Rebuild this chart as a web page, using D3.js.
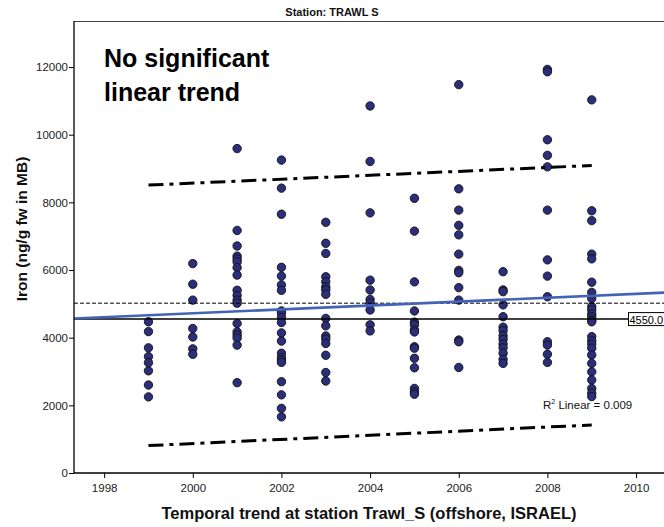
<!DOCTYPE html>
<html><head><meta charset="utf-8">
<script src="https://cdn.jsdelivr.net/npm/d3@7"></script>
<style>
html,body{margin:0;padding:0;background:#fff;overflow:hidden}
svg{display:block}
text{font-family:"Liberation Sans",Arial,sans-serif}
</style></head>
<body><svg id="c" width="664" height="527"></svg>
<script>
// ---- data ----
const years = [1999,2000,2001,2002,2003,2004,2005,2006,2007,2008,2009];
const v1999 = [4470,4180,3700,3440,3260,3020,2600,2250];
const v2000 = [6190,5580,5110,4270,4020,3670,3510];
const v2001 = [9590,7170,6710,6410,6330,6240,6070,5850,5400,5250,5110,5020,4420,4170,4080,3990,3780,2670];
const v2002 = [9250,8420,7650,6080,5820,5560,5400,4790,4730,4600,4450,4140,3900,3540,3410,3340,3270,2700,2310,1910,1660];
const v2003 = [7410,6790,6490,5800,5650,5500,5410,5280,4570,4350,4050,3960,3830,3480,2970,2720];
const v2004 = [10850,9210,7690,5700,5410,5130,5020,4820,4380,4200];
const v2005 = [8120,7150,5650,4790,4460,4380,4230,4170,3730,3690,3390,3110,2500,2400,2330];
const v2006 = [11480,8400,7770,7320,7040,6470,5990,5920,5480,5110,3930,3880,3120];
const v2007 = [5950,5410,5360,4970,4620,4310,4210,4060,3950,3810,3700,3540,3360,3240];
const v2008 = [11930,11860,9850,9390,9050,7770,6300,5820,5210,3880,3780,3510,3270];
const v2009 = [11030,7750,7460,6470,6330,5640,5340,5160,4920,4820,4700,4620,4520,4470,4030,3910,3810,3690,3490,3240,2990,2750,2500,2360,2260];
const columnValues = [v1999,v2000,v2001,v2002,v2003,v2004,v2005,v2006,v2007,v2008,v2009];

const yTicks = [0,2000,4000,6000,8000,10000,12000];
const xTicks = [1998,2000,2002,2004,2006,2008,2010];

const meanValue = 5020;          // dashed reference line
const refValue = 4550;           // solid reference line
const refLabel = "4550.0";
const fitLine = [{year:1997.32, v:4565},{year:2010.63, v:5332}];
const upperBand = [{year:1999, v:8510},{year:2009, v:9090}];
const lowerBand = [{year:1999, v:810},{year:2009, v:1420}];
const r2Text = " Linear = 0.009";

const titleText = "Station: TRAWL S";
const xLabel = "Temporal trend at station Trawl_S (offshore, ISRAEL)";
const yLabel = "Iron (ng/g fw in MB)";
const noteLines = ["No significant","linear trend"];

// ---- layout ----
const svg = d3.select("#c");
const mLeft = 74, mTop = 21, mBottom = 473, mRight = 664;
const x = d3.scaleLinear().domain([1997.32, 2010.63]).range([mLeft, mRight]);
const y = d3.scaleLinear().domain([0, 13361]).range([mBottom, mTop]);

const points = [];
years.forEach((yr,i)=>columnValues[i].forEach(v=>points.push({year:yr, v})));

// frame top
svg.append("line").attr("x1",mLeft).attr("x2",mRight+10).attr("y1",mTop+0.5).attr("y2",mTop+0.5)
  .attr("stroke","#444").attr("stroke-width",1.2);

// points
svg.append("g").selectAll("circle").data(points).join("circle")
  .attr("cx",d=>x(d.year)).attr("cy",d=>y(d.v)).attr("r",4.2)
  .attr("fill","#2b2e7a").attr("stroke","#111").attr("stroke-width",0.9);

const line = d3.line().x(d=>x(d.year)).y(d=>y(d.v));

// dashed mean line
svg.append("path").datum([{year:1997.32,v:meanValue},{year:2010.63,v:meanValue}])
  .attr("d",line).attr("stroke","#000").attr("stroke-width",1).attr("stroke-dasharray","4,2").attr("fill","none");

// solid reference line
svg.append("path").datum([{year:1997.32,v:refValue},{year:x.invert(628),v:refValue}])
  .attr("d",line).attr("stroke","#000").attr("stroke-width",1.4).attr("fill","none");

// fit line
svg.append("path").datum(fitLine).attr("d",line)
  .attr("stroke","#4463b8").attr("stroke-width",2.6).attr("fill","none");

// bands
[upperBand, lowerBand].forEach(b=>{
  svg.append("path").datum(b).attr("d",line)
    .attr("stroke","#000").attr("stroke-width",3).attr("fill","none")
    .attr("stroke-dasharray","15,6,4,6");
});

// ref label box
const ry = y(refValue);
svg.append("rect").attr("x",628.5).attr("y",ry-6.5).attr("width",50).attr("height",13)
  .attr("fill","#fff").attr("stroke","#000").attr("stroke-width",1);
svg.append("text").attr("x",629.5).attr("y",ry+4.5).attr("font-size",11).attr("fill","#000").text(refLabel);

// R2 text
const rt = svg.append("text").attr("x",543).attr("y",409).attr("font-size",11.5).attr("fill","#111");
rt.append("tspan").text("R");
rt.append("tspan").attr("font-size",7).attr("dy",-5).text("2");
rt.append("tspan").attr("dy",5).text(r2Text);

// axes
const ya = svg.append("g").attr("transform",`translate(${mLeft},0)`)
  .call(d3.axisLeft(y).tickValues(yTicks).tickSize(5).tickSizeOuter(0).tickFormat(d3.format("d")));
ya.select(".domain").remove();
ya.append("line").attr("x1",0).attr("x2",0).attr("y1",mTop).attr("y2",mBottom).attr("stroke","#000").attr("stroke-width",1.3);
ya.selectAll(".tick line").attr("stroke","#000");
ya.selectAll(".tick text").attr("font-size",11.5).attr("fill","#222").attr("font-family","Liberation Sans, Arial, sans-serif").attr("x",-6);

const xa = svg.append("g").attr("transform",`translate(0,${mBottom})`)
  .call(d3.axisBottom(x).tickValues(xTicks).tickSize(5).tickSizeOuter(0).tickFormat(d3.format("d")));
xa.select(".domain").remove();
xa.append("line").attr("x1",mLeft).attr("x2",mRight+10).attr("y1",0).attr("y2",0).attr("stroke","#000").attr("stroke-width",1.3);
xa.selectAll(".tick line").attr("stroke","#000");
xa.selectAll(".tick text").attr("font-size",11.5).attr("fill","#222").attr("font-family","Liberation Sans, Arial, sans-serif").attr("y",11);

// title
svg.append("text").attr("x",332).attr("y",16).attr("text-anchor","middle")
  .attr("font-size",11).attr("font-weight","bold").attr("fill","#111").text(titleText);

// axis labels
svg.append("text").attr("x",369).attr("y",519).attr("text-anchor","middle")
  .attr("font-size",16.5).attr("font-weight","bold").attr("fill","#111").text(xLabel);
svg.append("text").attr("transform","translate(27,229) rotate(-90)").attr("text-anchor","middle")
  .attr("font-size",15.5).attr("font-weight","bold").attr("fill","#111").text(yLabel);

// annotation
svg.append("g").selectAll("text").data(noteLines).join("text")
  .attr("x",104).attr("y",(d,i)=>67+i*34)
  .attr("font-family","Lato, 'Noto Sans', sans-serif").attr("font-size",25).attr("font-weight","bold")
  .attr("fill","#000").text(d=>d);
</script></body></html>
